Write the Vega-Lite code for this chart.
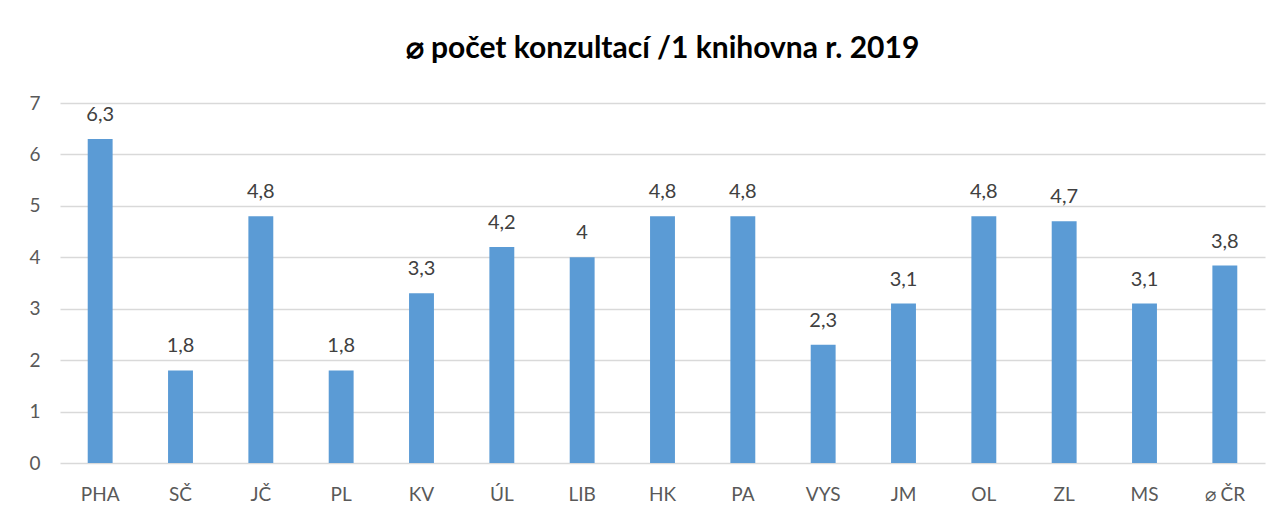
{
  "$schema": "https://vega.github.io/schema/vega-lite/v6.json",
  "autosize": "none",
  "width": 1205,
  "height": 360,
  "padding": {"left": 60, "top": 103, "right": 20, "bottom": 54},
  "background": "white",
  "config": {
    "locale": {"number": {"decimal": ",", "thousands": " ", "grouping": [3], "currency": ["", " Kč"]}},
    "view": {"stroke": null},
    "font": "Lato"
  },
  "title": {
    "text": "⌀ počet konzultací /1 knihovna r. 2019",
    "fontSize": 30,
    "fontWeight": "bold",
    "color": "#000000",
    "anchor": "middle",
    "offset": 30,
    "font": "Lato"
  },
  "data": {
    "values": [
      {"kraj": "PHA", "hodnota": 6.3},
      {"kraj": "SČ", "hodnota": 1.8},
      {"kraj": "JČ", "hodnota": 4.8},
      {"kraj": "PL", "hodnota": 1.8},
      {"kraj": "KV", "hodnota": 3.3},
      {"kraj": "ÚL", "hodnota": 4.2},
      {"kraj": "LIB", "hodnota": 4.0},
      {"kraj": "HK", "hodnota": 4.8},
      {"kraj": "PA", "hodnota": 4.8},
      {"kraj": "VYS", "hodnota": 2.3},
      {"kraj": "JM", "hodnota": 3.1},
      {"kraj": "OL", "hodnota": 4.8},
      {"kraj": "ZL", "hodnota": 4.7},
      {"kraj": "MS", "hodnota": 3.1},
      {"kraj": "⌀ ČR", "hodnota": 3.84}
    ]
  },
  "encoding": {
    "x": {
      "field": "kraj",
      "type": "nominal",
      "sort": null,
      "scale": {"paddingInner": 0.69, "paddingOuter": 0.345},
      "axis": {
        "title": null,
        "labelAngle": 0,
        "labelFontSize": 19,
        "labelColor": "#595959",
        "labelPadding": 22,
        "ticks": false,
        "domain": false,
        "labelFont": "Lato"
      }
    },
    "y": {
      "field": "hodnota",
      "type": "quantitative",
      "scale": {"domain": [0, 7], "nice": false},
      "axis": {
        "title": null,
        "values": [0, 1, 2, 3, 4, 5, 6, 7],
        "labelOverlap": false,
        "labelFontSize": 19,
        "labelColor": "#595959",
        "labelPadding": 20,
        "ticks": false,
        "domain": false,
        "gridColor": "#d9d9d9",
        "gridWidth": 1.3,
        "labelFont": "Lato"
      }
    }
  },
  "layer": [
    {"mark": {"type": "bar", "color": "#5B9BD5"}},
    {
      "mark": {"type": "text", "baseline": "bottom", "dy": -14, "fontSize": 20, "color": "#404040", "font": "Lato"},
      "encoding": {"text": {"field": "hodnota", "type": "quantitative", "format": ".1~f"}}
    }
  ]
}
